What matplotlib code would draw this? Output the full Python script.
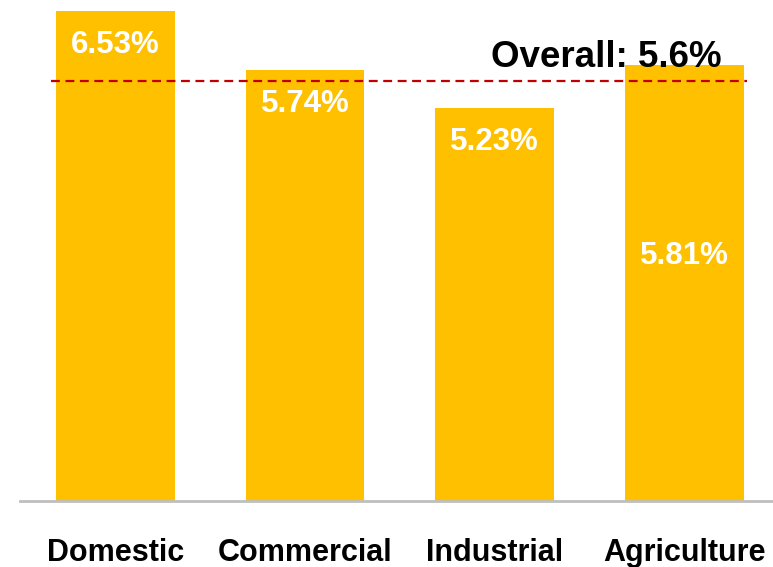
import matplotlib.pyplot as plt

# Tasa por sector (%)
categories = ['Domestic', 'Commercial', 'Industrial', 'Agriculture']
rates = [6.53, 5.74, 5.23, 5.81]
overall = 5.6

plt.rcParams['font.family'] = ['Liberation Sans', 'DejaVu Sans']

fig = plt.figure(figsize=(7.73, 5.67), dpi=100)
ax = fig.add_axes([20 / 773, 66 / 567, 753 / 773, 501 / 567])

x = range(len(categories))
bars = ax.bar(x, rates, width=0.627, color='#FFC000', zorder=2)

ax.set_xlim(-0.504, 3.469)
ax.set_ylim(0, 6.675)

# Etiquetas dentro de las barras
for i, (b, v) in enumerate(zip(bars, rates)):
    if categories[i] == 'Agriculture':
        y = 3.27
    else:
        y = v - 0.45
    ax.text(b.get_x() + b.get_width() / 2, y, f'{v:.2f}%', ha='center', va='center',
            color='white', fontsize=22.5, fontweight='bold', zorder=3)

# Linea del promedio general
ax.plot([-0.34, 3.33], [overall, overall], color='#C00000', lw=1.6,
        ls=(0, (4, 2.5)), zorder=3)
ax.text(3.2, overall + 0.08, f'Overall: {overall}%', ha='right', va='bottom',
        fontsize=26.5, fontweight='bold', color='black', zorder=4)

ax.set_xticks(list(x))
ax.set_xticklabels(categories, fontsize=22, fontweight='bold')
ax.tick_params(axis='x', length=0, pad=26.5)
ax.set_yticks([])
for s in ['top', 'right', 'left']:
    ax.spines[s].set_visible(False)
ax.spines['bottom'].set_color('#BFBFBF')
ax.spines['bottom'].set_linewidth(2)

fig.savefig('out.png', dpi=100)
